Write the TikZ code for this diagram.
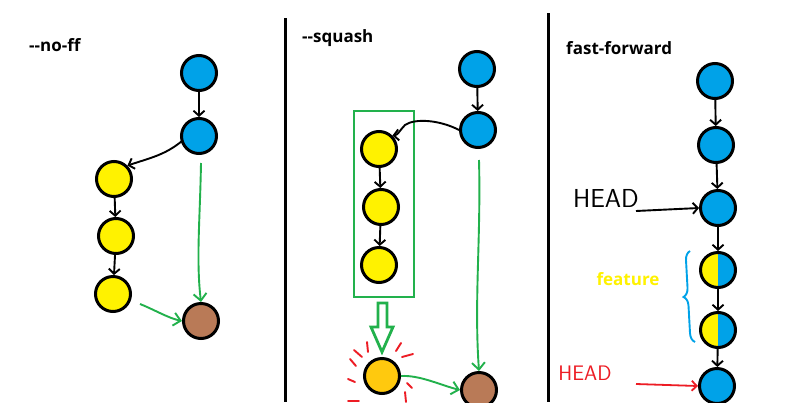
\documentclass[tikz,border=0pt]{standalone}
\usepackage{fontspec}
\setmainfont{Open Sans}
\usetikzlibrary{arrows.meta,decorations.pathreplacing}
\definecolor{pblue}{HTML}{00A2E8}
\definecolor{pyellow}{HTML}{FFF200}
\definecolor{pbrown}{HTML}{B97A57}
\definecolor{pgreen}{HTML}{22B14C}
\definecolor{pred}{HTML}{ED1C24}
\definecolor{porange}{HTML}{FFC90E}
\begin{document}
\begin{tikzpicture}[x=1pt,y=-1pt,
  commit/.style={circle,draw=black,line width=3pt,minimum size=35pt,inner sep=0pt},
  bluec/.style={commit,fill=pblue},
  yellowc/.style={commit,fill=pyellow},
  brownc/.style={commit,fill=pbrown},
  orangec/.style={commit,fill=porange},
  halfc/.style={commit,fill=pblue,path picture={\fill[pyellow] (path picture bounding box.south west) rectangle (path picture bounding box.north);}},
  blk/.style={-{Straight Barb[length=5pt,width=11pt]},line width=1.9pt},
  grn/.style={-{Straight Barb[length=7pt,width=13pt]},line width=1.9pt,draw=pgreen},
  redl/.style={-{Straight Barb[length=5pt,width=10pt]},line width=1.8pt,draw=pred},
  title/.style={font=\bfseries\fontsize{17}{19}\selectfont,anchor=west,inner sep=0pt},
  divider/.style={line width=3pt},
  reddash/.style={draw=pred,line width=1.9pt,line cap=round}
]
\useasboundingbox (0,0) rectangle (800,402);
\fill[white] (0,0) rectangle (800,402);

% dividers
\draw[divider] (285,18) -- (285,402);
\draw[divider] (548,13) -- (548,402);

% ---------- panel 1: --no-ff ----------
\node[title] (t1) at (29,45) {-{}-no-ff};
\node[bluec] (a1) at (199,73) {};
\node[bluec] (a2) at (199,136) {};
\node[yellowc] (a3) at (114,179) {};
\node[yellowc] (a4) at (116,236) {};
\node[yellowc] (a5) at (113,294) {};
\node[brownc] (a6) at (201,321) {};
\draw[blk] (a1) -- (a2);
\draw[blk] (a2.west) ++(2,5) coordinate (a2s) .. controls (165,155) and (150,158) .. (a3.north east);
\draw[blk] (a3) -- (a4);
\draw[blk] (a4) -- (a5);
\coordinate (g1s) at (201,163);
\draw[grn] (g1s) .. controls (200,220) and (196,260) .. (a6.north);
\coordinate (g2s) at (140,304);
\draw[grn] (g2s) .. controls (155,310) and (168,318) .. (a6.west);

% ---------- panel 2: --squash ----------
\node[title] (t2) at (302,38) {-{}-squash};
\node[bluec] (b1) at (477,69) {};
\node[bluec] (b2) at (478,130) {};
\node[draw=pgreen,line width=2.6pt,minimum width=60pt,minimum height=186pt,inner sep=0pt] (box) at (384,204) {};
\node[yellowc] (b3) at (379,149) {};
\node[yellowc] (b4) at (381,207) {};
\node[yellowc] (b5) at (379,265) {};
\node[orangec] (b6) at (382,376) {};
\node[brownc] (b7) at (479,390) {};
\draw[blk] (b1) -- (b2);
\draw[blk] (b2.west) .. controls (440,120) and (415,118) .. (405,125) .. controls (400,130) and (398,135) .. (b3.north east);
\draw[blk] (b3) -- (b4);
\draw[blk] (b4) -- (b5);
\coordinate (g3s) at (479,160);
\draw[grn] (g3s) .. controls (481,240) and (474,300) .. (b7.north);
\draw[grn] (b6.east) .. controls (420,375) and (440,385) .. (b7.west);
% hollow squash arrow
\draw[pgreen,line width=2.8pt,line join=miter] (378,303) -- (387,303) -- (387,327) -- (393,327) -- (382,352) -- (371,327) -- (378,327) -- cycle;
% red sparkle dashes
\draw[reddash] (367,342) -- (368,352);
\draw[reddash] (354,350) -- (362,357);
\draw[reddash] (350,359) -- (356,366);
\draw[reddash] (348,379) -- (355,382);
\draw[reddash] (396,351) -- (401,343);
\draw[reddash] (402,357) -- (413,354);
\draw[reddash] (407,383) -- (412,388);
\draw[reddash] (405,392) -- (406,402);
\draw[reddash] (348,401) -- (359,401);

% ---------- panel 3: fast-forward ----------
\node[title] (t3) at (566,48) {fast-forward};
\node[bluec] (c1) at (715,81) {};
\node[bluec] (c2) at (716,145) {};
\node[bluec] (c3) at (718,208) {};
\node[halfc] (c4) at (718,270) {};
\node[halfc] (c5) at (718,330) {};
\node[bluec] (c6) at (717,386) {};
\draw[blk] (c1) -- (c2);
\draw[blk] (c2) -- (c3);
\draw[blk] (c3) -- (c4);
\draw[blk] (c4) -- (c5);
\draw[blk] (c5) -- (c6);
\node[font=\sffamily\fontsize{26}{28}\selectfont,inner sep=0pt] (h1) at (606,198) {HEAD};
\coordinate (h1s) at (636,211);
\draw[blk] (h1s) -- (c3.west);
\node[font=\sffamily\fontsize{21}{24}\selectfont,text=pred,inner sep=0pt] (h2) at (585,373) {HEAD};
\coordinate (h2s) at (636,384);
\draw[redl] (h2s) -- (c6.west);
\node[font=\bfseries\fontsize{17}{19}\selectfont,text=pyellow,inner sep=0pt] (ft) at (628,279) {feature};
\draw[pblue,line width=1.9pt,decorate,decoration={brace,amplitude=9pt}] (695,342) -- (690,251);
\end{tikzpicture}
\end{document}
